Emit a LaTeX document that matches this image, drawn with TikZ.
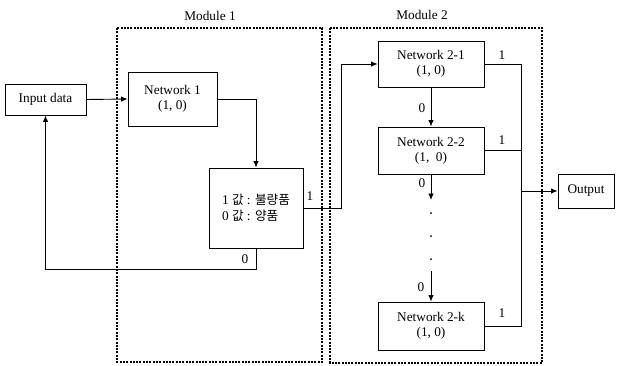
\documentclass[tikz,border=0pt]{standalone}
\usepackage{fontspec}
\setmainfont{Liberation Serif}
\newfontfamily\kr{Noto Sans CJK KR}[Scale=0.95]
\usetikzlibrary{arrows.meta}
\begin{document}
\begin{tikzpicture}[x=1pt,y=-1pt,
  font=\fontsize{13.3}{15}\selectfont,
  box/.style={draw,line width=0.9pt,align=center,inner sep=0pt},
  modbox/.style={draw,line width=1.1pt,dash pattern=on 2pt off 1.3pt},
  conn/.style={line width=0.9pt},
  arr/.style={conn,-{Latex[length=6.5pt,width=5.5pt]}},
  lbl/.style={inner sep=0pt}]
\useasboundingbox (0,0) rectangle (618,365);
% modules
\draw[modbox] (117,28) rectangle (322,362);
\draw[modbox] (330,28) rectangle (542,363);
\node[lbl] (m1) at (210,16) {Module 1};
\node[lbl] (m2) at (422,15) {Module 2};
% boxes
\node[box,minimum width=81pt,minimum height=31pt] (in) at (45.5,99.5) {Input data};
\node[box,minimum width=89pt,minimum height=54pt] (n1) at (172.5,99) {Network 1\\(1, 0)};
\node[box,minimum width=94pt,minimum height=80pt,align=left] (jd) at (256,208) {1 {\kr 값} : {\kr 불량품}\\[1pt]0 {\kr 값} : {\kr 양품}};
\node[box,minimum width=106pt,minimum height=46pt] (n21) at (431,64) {Network 2-1\\(1, 0)};
\node[box,minimum width=106pt,minimum height=47pt] (n22) at (431,150.5) {Network 2-2\\(1,\ \ 0)};
\node[box,minimum width=106pt,minimum height=48pt] (n2k) at (431,326) {Network 2-k\\(1, 0)};
\node[box,minimum width=56pt,minimum height=34pt] (out) at (586,191) {Output};
% coordinates
\coordinate (j1) at (341,208);
\coordinate (fb) at (256,269);
\coordinate (d1) at (431,200);
\coordinate (d2) at (431,271);
\coordinate (bk) at (521,326);
\coordinate (b2) at (521,150.5);
\coordinate (bo) at (521,191);
% connectors
\draw[arr] (in.east) -- (n1.west);
\draw[arr] (n1.east) -| (jd.north);
\draw[arr] (jd.east) -- (j1) |- (n21.west);
\draw[arr] (jd.south) -- (fb) -| (in.south);
\draw[arr] (n21.south) -- (n22.north);
\draw[arr] (n22.south) -- (d1);
\draw[arr] (d2) -- (n2k.north);
\fill (431,213) circle (1pt);
\fill (431,236) circle (1pt);
\fill (431,259) circle (1pt);
\draw[conn] (n21.east) -| (bk) -- (n2k.east);
\draw[conn] (n22.east) -- (b2);
\draw[arr] (bo) -- (out.west);
% labels
\node[lbl] at (310,196) {1};
\node[lbl] at (245,259) {0};
\node[lbl] at (502,55) {1};
\node[lbl] at (502,140) {1};
\node[lbl] at (502,313) {1};
\node[lbl] at (422,108) {0};
\node[lbl] at (422,183) {0};
\node[lbl] at (421,287) {0};
\end{tikzpicture}
\end{document}
